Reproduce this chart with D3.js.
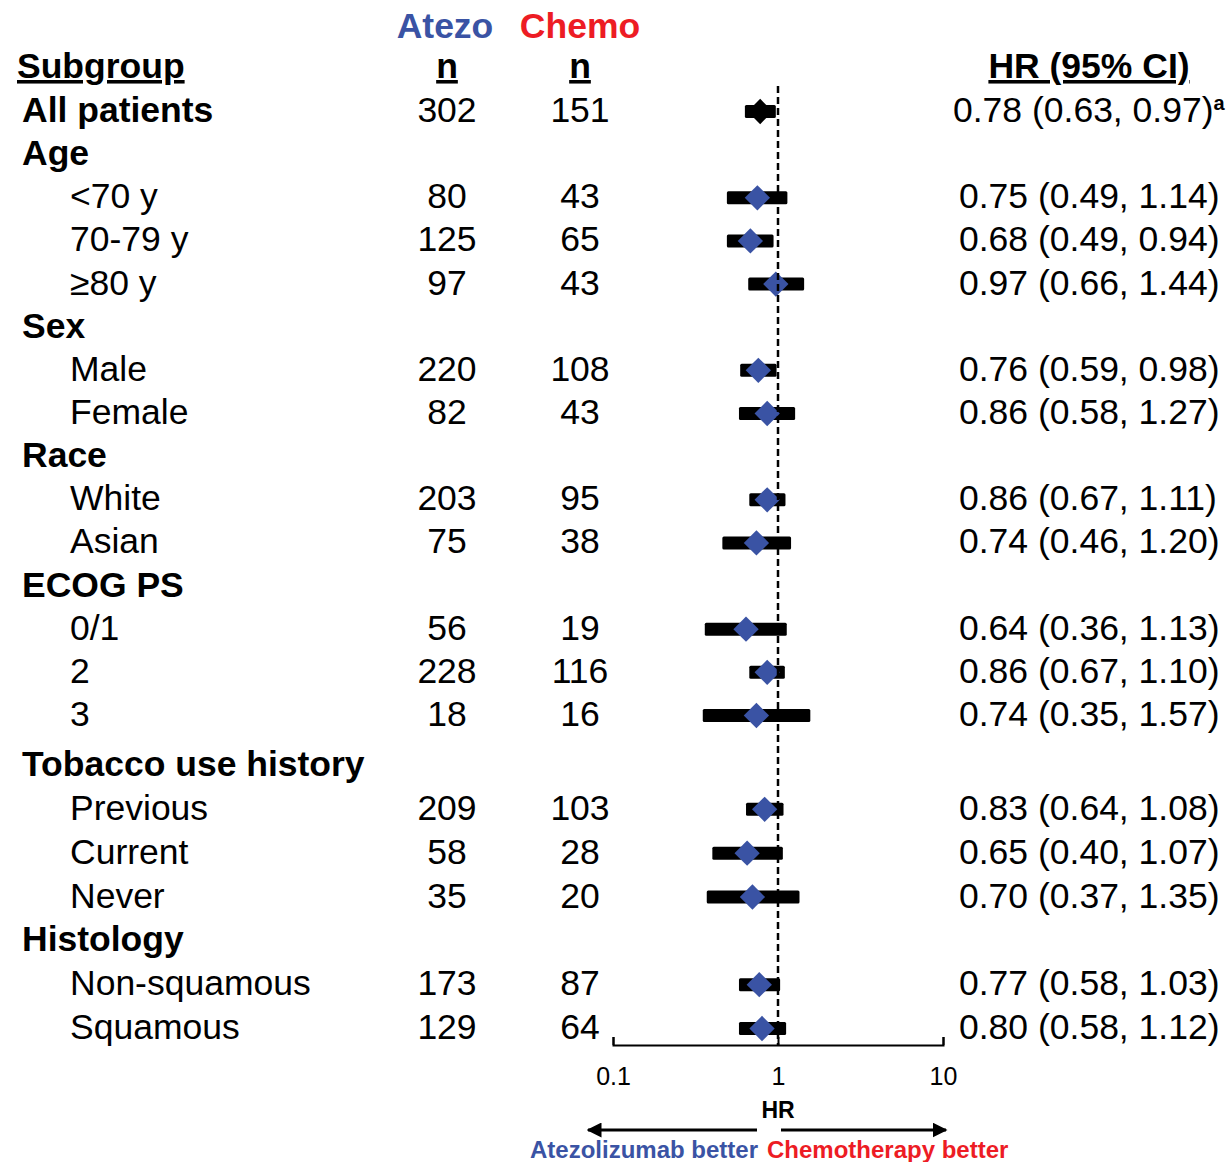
<!DOCTYPE html>
<html>
<head>
<meta charset="utf-8">
<script src="https://cdn.jsdelivr.net/npm/d3@7"></script>
<style>
  html, body { margin: 0; padding: 0; background: #fff; }
  svg { display: block; font-family: "Liberation Sans", Arial, sans-serif; }
</style>
</head>
<body>
<div id="chart"></div>
<script>
// Subgroup table (header rows have no values)
const subgroups = ["All patients", "Age", "<70 y", "70-79 y", "\u226580 y", "Sex", "Male", "Female",
  "Race", "White", "Asian", "ECOG PS", "0/1", "2", "3", "Tobacco use history",
  "Previous", "Current", "Never", "Histology", "Non-squamous", "Squamous"];
const isHeader = [true, true, false, false, false, true, false, false,
  true, false, false, true, false, false, false, true,
  false, false, false, true, false, false];
const atezoN = [302, null, 80, 125, 97, null, 220, 82, null, 203, 75, null, 56, 228, 18, null, 209, 58, 35, null, 173, 129];
const chemoN = [151, null, 43, 65, 43, null, 108, 43, null, 95, 38, null, 19, 116, 16, null, 103, 28, 20, null, 87, 64];
const hr = [0.78, null, 0.75, 0.68, 0.97, null, 0.76, 0.86, null, 0.86, 0.74, null, 0.64, 0.86, 0.74, null, 0.83, 0.65, 0.70, null, 0.77, 0.80];
const ciLow = [0.63, null, 0.49, 0.49, 0.66, null, 0.59, 0.58, null, 0.67, 0.46, null, 0.36, 0.67, 0.35, null, 0.64, 0.40, 0.37, null, 0.58, 0.58];
const ciHigh = [0.97, null, 1.14, 0.94, 1.44, null, 0.98, 1.27, null, 1.11, 1.20, null, 1.13, 1.10, 1.57, null, 1.08, 1.07, 1.35, null, 1.03, 1.12];
const axisTicks = [0.1, 1, 10];

const BLUE = "#3a53a4";
const RED = "#ed1c24";

const width = 1231, height = 1162;

const svg = d3.select("#chart").append("svg")
  .attr("width", width)
  .attr("height", height);

const rows = subgroups.map((label, i) => ({
  i, label, header: isHeader[i], a: atezoN[i], c: chemoN[i],
  hr: hr[i], lo: ciLow[i], hi: ciHigh[i]
}));

// Scales (a little extra room above "Tobacco use history")
const x = d3.scaleLog().domain([0.1, 10]).range([613, 943]);
const y = d3.scaleLinear().domain([0, 14, 15, subgroups.length - 1]).range([110, 714, 764, 1027]);

const FS = 35.5;

// Column headers
svg.append("text").attr("x", 445).attr("y", 38).attr("text-anchor", "middle")
  .attr("font-size", FS).attr("font-weight", "bold").attr("fill", BLUE).text("Atezo");
svg.append("text").attr("x", 580).attr("y", 38).attr("text-anchor", "middle")
  .attr("font-size", FS).attr("font-weight", "bold").attr("fill", RED).text("Chemo");

const heads = [
  { t: "Subgroup", x: 17, anchor: "start" },
  { t: "n", x: 447, anchor: "middle" },
  { t: "n", x: 580, anchor: "middle" },
  { t: "HR (95% CI)", x: 1089, anchor: "middle" }
];
svg.selectAll(".colhead").data(heads).join("text")
  .attr("class", "colhead")
  .attr("x", d => d.x).attr("y", 78)
  .attr("text-anchor", d => d.anchor)
  .attr("font-size", FS).attr("font-weight", "bold")
  .style("text-decoration", "underline")
  .text(d => d.t);

// Row labels
svg.selectAll(".label").data(rows).join("text")
  .attr("class", "label")
  .attr("x", d => d.header ? 22 : 70)
  .attr("y", d => y(d.i) + 12)
  .attr("font-size", FS)
  .attr("font-weight", d => d.header ? "bold" : "normal")
  .text(d => d.label);

const dataRows = rows.filter(d => d.hr != null);

// n columns
svg.selectAll(".na").data(dataRows).join("text")
  .attr("class", "na")
  .attr("x", 447).attr("y", d => y(d.i) + 12)
  .attr("text-anchor", "middle").attr("font-size", FS)
  .text(d => d.a);
svg.selectAll(".nc").data(dataRows).join("text")
  .attr("class", "nc")
  .attr("x", 580).attr("y", d => y(d.i) + 12)
  .attr("text-anchor", "middle").attr("font-size", FS)
  .text(d => d.c);

// HR text
const f2 = d3.format(".2f");
const hrText = svg.selectAll(".hrt").data(dataRows).join("text")
  .attr("class", "hrt")
  .attr("x", d => d.i === 0 ? 953 : 959)
  .attr("y", d => y(d.i) + 12)
  .attr("font-size", FS);
hrText.append("tspan").text(d => `${f2(d.hr)} (${f2(d.lo)}, ${f2(d.hi)})`);
hrText.filter(d => d.i === 0).append("tspan")
  .attr("font-size", 20).attr("font-weight", "bold").attr("dy", -12)
  .text("a");

// Axis
const axis = d3.axisBottom(x)
  .tickValues(axisTicks)
  .tickFormat(d => String(d))
  .tickSizeInner(-8)
  .tickSizeOuter(-8)
  .tickPadding(22);

const axisY = 1045;
const gx = svg.append("g")
  .attr("transform", `translate(0,${axisY})`)
  .call(axis);
gx.select(".domain").attr("stroke", "#000").attr("stroke-width", 2).attr("fill", "none");
gx.selectAll(".tick line").attr("stroke-width", 2);
gx.selectAll(".tick text")
  .attr("font-size", 25)
  .attr("fill", "#000")
  .style("font-family", "'Liberation Sans', Arial, sans-serif");

// CI bars
svg.selectAll(".ci").data(dataRows).join("rect")
  .attr("class", "ci")
  .attr("x", d => x(d.lo))
  .attr("y", d => y(d.i) + 1.5 - 6.5)
  .attr("width", d => x(d.hi) - x(d.lo))
  .attr("height", 13)
  .attr("rx", 1.5)
  .attr("fill", "#000");

// Point estimates
const diamond = d3.symbol(d3.symbolSquare, 320);
svg.selectAll(".pt").data(dataRows).join("path")
  .attr("class", "pt")
  .attr("d", diamond)
  .attr("transform", d => `translate(${x(d.hr)},${y(d.i) + 1.5}) rotate(45)`)
  .attr("fill", d => d.i === 0 ? "#000" : BLUE);

// Reference line at HR = 1
svg.append("line")
  .attr("x1", x(1)).attr("x2", x(1))
  .attr("y1", 86).attr("y2", axisY)
  .attr("stroke", "#000").attr("stroke-width", 2.5)
  .attr("stroke-dasharray", "7,4");

// HR label and arrows
svg.append("text").attr("x", x(1)).attr("y", 1118).attr("text-anchor", "middle")
  .attr("font-size", 23).attr("font-weight", "bold").text("HR");

const defs = svg.append("defs");
defs.append("marker")
  .attr("id", "arrow")
  .attr("viewBox", "0 0 10 10")
  .attr("refX", 9).attr("refY", 5)
  .attr("markerWidth", 5).attr("markerHeight", 5)
  .attr("markerUnits", "strokeWidth")
  .attr("orient", "auto")
  .append("path").attr("d", "M0,0L10,5L0,10Z").attr("fill", "#000");

const arrowY = 1130;
svg.append("line")
  .attr("x1", x(1) - 21).attr("x2", x.range()[0] - 25)
  .attr("y1", arrowY).attr("y2", arrowY)
  .attr("stroke", "#000").attr("stroke-width", 3)
  .attr("marker-end", "url(#arrow)");
svg.append("line")
  .attr("x1", x(1) + 3).attr("x2", x.range()[1] + 3)
  .attr("y1", arrowY).attr("y2", arrowY)
  .attr("stroke", "#000").attr("stroke-width", 3)
  .attr("marker-end", "url(#arrow)");

svg.append("text").attr("x", x(1) - 20).attr("y", 1158).attr("text-anchor", "end")
  .attr("font-size", 24).attr("font-weight", "bold").attr("fill", BLUE)
  .text("Atezolizumab better");
svg.append("text").attr("x", x(1) - 11).attr("y", 1158).attr("text-anchor", "start")
  .attr("font-size", 24).attr("font-weight", "bold").attr("fill", RED)
  .text("Chemotherapy better");
</script>
</body>
</html>
